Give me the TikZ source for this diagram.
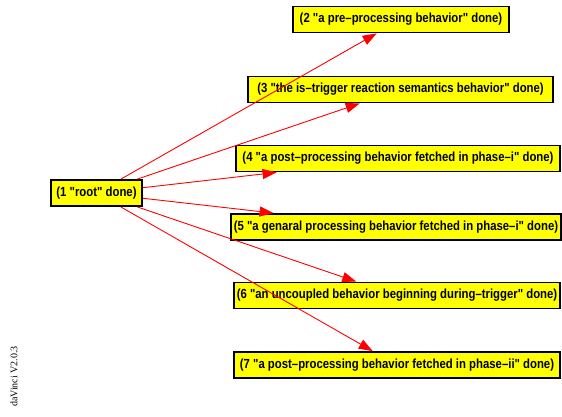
\documentclass[tikz,border=0pt]{standalone}
\usepackage{fontspec}
\setmainfont{Liberation Sans}
\newfontfamily\labelfont[FakeStretch=0.86]{Liberation Sans Bold}
\newfontfamily\stampfont{Liberation Serif}
\usetikzlibrary{arrows.meta}
\definecolor{boxfill}{RGB}{255,255,0}
\definecolor{edgered}{RGB}{255,0,0}
\tikzset{
  statebox/.style={draw=black, line width=1.8pt, fill=boxfill, inner sep=0pt,
    minimum height=26pt, font=\labelfont\fontsize{13.2pt}{15pt}\selectfont},
  edge/.style={draw=edgered, line width=0.9pt,
    -{Triangle[length=14pt,width=10pt]}}
}
\begin{document}
\begin{tikzpicture}[x=1pt,y=-1pt]
\useasboundingbox (0,0) rectangle (562,417);
\node[statebox, minimum width=91pt]  (n1) at (96.5,193)  {(1 "root" done)};
\node[statebox, minimum width=216pt] (n2) at (401,19.5)  {(2 "a pre–processing behavior" done)};
\node[statebox, minimum width=305pt] (n3) at (400.5,89.5) {(3 "the is–trigger reaction semantics behavior" done)};
\node[statebox, minimum width=324pt] (n4) at (398,158.5) {(4 "a post–processing behavior fetched in phase–i" done)};
\node[statebox, minimum width=330pt] (n5) at (396,227)   {(5 "a genaral processing behavior fetched in phase–i" done)};
\node[statebox, minimum width=326pt] (n6) at (397,295.5) {(6 "an uncoupled behavior beginning during–trigger" done)};
\node[statebox, minimum width=326pt] (n7) at (397,365)   {(7 "a post–processing behavior fetched in phase–ii" done)};
\foreach \t in {n2,n3,n4,n5,n6,n7}
  \draw[edge] (n1) -- (\t);
\node[rotate=90, font=\stampfont\fontsize{10pt}{12pt}\selectfont, inner sep=0pt] (stamp) at (14,376.5) {daVinci V2.0.3};
\end{tikzpicture}
\end{document}
